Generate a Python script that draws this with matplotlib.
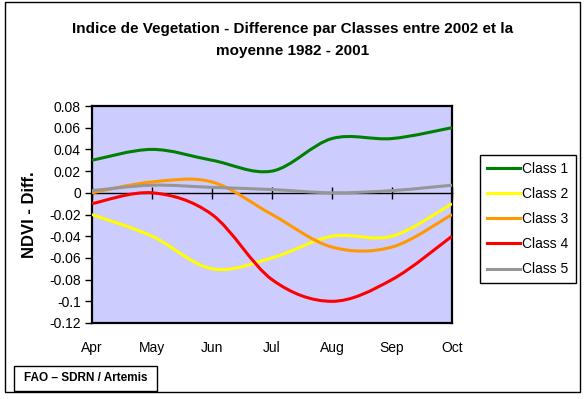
import matplotlib
matplotlib.use('Agg')
import matplotlib.pyplot as plt
from matplotlib.path import Path
from matplotlib.patches import PathPatch, Rectangle
from matplotlib.lines import Line2D

# Categories and series (NDVI difference 2002 vs 1982-2001 mean)
months = ['Apr', 'May', 'Jun', 'Jul', 'Aug', 'Sep', 'Oct']
class_1 = [0.03, 0.04, 0.03, 0.02, 0.05, 0.05, 0.06]
class_2 = [-0.02, -0.04, -0.07, -0.06, -0.04, -0.04, -0.01]
class_3 = [0.0, 0.01, 0.01, -0.02, -0.05, -0.05, -0.02]
class_4 = [-0.01, 0.0, -0.02, -0.08, -0.10, -0.08, -0.04]
class_5 = [0.002, 0.007, 0.005, 0.003, 0.0, 0.002, 0.007]
labels = ['Class 1', 'Class 2', 'Class 3', 'Class 4', 'Class 5']
colors = ['#008000', '#FFFF00', '#FF9900', '#FF0000', '#969696']
y_ticks = [-0.12, -0.1, -0.08, -0.06, -0.04, -0.02, 0, 0.02, 0.04, 0.06, 0.08]

plt.rcParams['font.family'] = ['Liberation Sans', 'DejaVu Sans']
plt.rcParams['axes.unicode_minus'] = False


def smooth_path(xs, ys):
    # Excel-style smoothed line: cubic Bezier through every data point
    verts = [(xs[0], ys[0])]
    codes = [Path.MOVETO]
    n = len(xs)
    for i in range(n - 1):
        x0, y0 = xs[max(i - 1, 0)], ys[max(i - 1, 0)]
        x1, y1 = xs[i], ys[i]
        x2, y2 = xs[i + 1], ys[i + 1]
        x3, y3 = xs[min(i + 2, n - 1)], ys[min(i + 2, n - 1)]
        verts += [(x1 + (x2 - x0) / 6, y1 + (y2 - y0) / 6),
                  (x2 - (x3 - x1) / 6, y2 - (y3 - y1) / 6),
                  (x2, y2)]
        codes += [Path.CURVE4] * 3
    return Path(verts, codes)


W, H = 586, 399
fig = plt.figure(figsize=(W / 100, H / 100), dpi=100)
fig.patch.set_facecolor('white')

ax = fig.add_axes([92 / W, 1 - 323 / H, 360 / W, 217 / H])
ax.set_facecolor('#CCCCFF')

x = list(range(len(months)))
series = [class_1, class_2, class_3, class_4, class_5]
for ys, col in zip(series, colors):
    ax.add_patch(PathPatch(smooth_path(x, ys), facecolor='none',
                           edgecolor=col, lw=2.2, zorder=3))

ax.set_xlim(0, len(months) - 1)
ax.set_ylim(-0.12, 0.08)
ax.set_yticks(y_ticks)
ax.set_yticklabels([f'{v:g}' for v in y_ticks])
ax.set_xticks(x)
ax.set_xticklabels(months)
ax.tick_params(axis='y', direction='out', length=5, width=1, pad=3, labelsize=10)
ax.tick_params(axis='x', length=0, pad=13, labelsize=10)
for s in ax.spines.values():
    s.set_linewidth(1.6)
    s.set_color('black')

# category axis crossing at zero
zero_ax = ax.secondary_xaxis(0, transform=ax.transData)
zero_ax.set_xticks(x)
zero_ax.set_xticklabels([])
zero_ax.tick_params(direction='inout', length=8, width=1)
zero_ax.spines['bottom'].set_linewidth(1)

ax.set_ylabel('NDVI - Diff.', fontsize=12, fontweight='bold')
ax.yaxis.set_label_coords(-0.153, 0.5)

fig.text(293 / W, 1 - 40 / H,
         'Indice de Vegetation - Difference par Classes entre 2002 et la\nmoyenne 1982 - 2001',
         ha='center', va='center', fontsize=11, fontweight='bold',
         linespacing=1.75)

handles = [Line2D([], [], color=c, lw=2.2) for c in colors]
leg = fig.legend(handles, labels, loc='upper left',
                 bbox_to_anchor=(480 / W, 1 - 155 / H), fontsize=10,
                 frameon=True, fancybox=False, framealpha=1, edgecolor='black',
                 borderaxespad=0, handlelength=2.4, handletextpad=0.15,
                 labelspacing=0.8, borderpad=0.5)
leg.get_frame().set_linewidth(1)

# source box
fig.patches.append(Rectangle((14 / W, 1 - 391 / H), 143 / W, 25 / H,
                             transform=fig.transFigure, fill=False,
                             ec='black', lw=1))
fig.text(85.5 / W, 1 - 378 / H, 'FAO \u2013 SDRN / Artemis', ha='center',
         va='center', fontsize=8.5, fontweight='bold')

# outer chart frame
fig.patches.append(Rectangle((5 / W, 1 - 392 / H), 575 / W, 390 / H,
                             transform=fig.transFigure, fill=False,
                             ec='black', lw=1))

fig.savefig('out.png', dpi=100)
